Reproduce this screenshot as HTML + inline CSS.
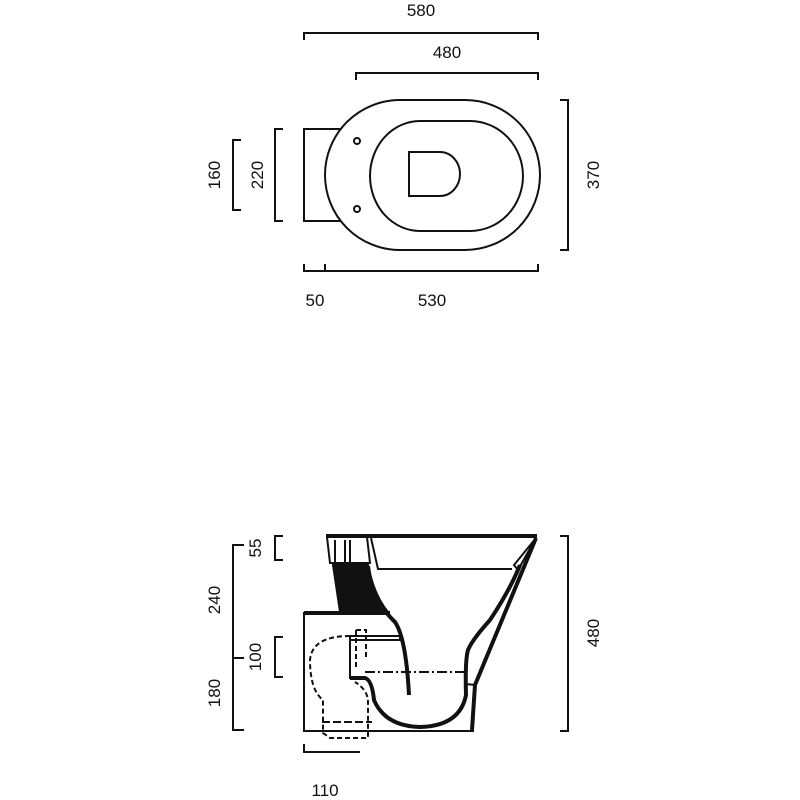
<!DOCTYPE html>
<html><head><style>body{margin:0;background:#fff}svg{display:block}text{font-family:"Liberation Sans",sans-serif;font-size:17px;fill:#111}</style></head><body>
<svg width="800" height="800" viewBox="0 0 800 800" fill="none" stroke="#111" stroke-width="2">
<path d="M304 40V33H538V40"/><text x="421" y="16" text-anchor="middle" stroke="none">580</text>
<path d="M356 80V73H538V80"/><text x="447" y="58" text-anchor="middle" stroke="none">480</text>
<path d="M560 100H568V250H560"/><text transform="translate(599 175) rotate(-90)" text-anchor="middle" stroke="none">370</text>
<path d="M241 140H233V210H241"/><text transform="translate(220 175) rotate(-90)" text-anchor="middle" stroke="none">160</text>
<path d="M283 129H275V221H283"/><text transform="translate(263 175) rotate(-90)" text-anchor="middle" stroke="none">220</text>
<path d="M304 264V271H538V264M325 264V271"/>
<text x="315" y="306" text-anchor="middle" stroke="none">50</text><text x="432" y="306" text-anchor="middle" stroke="none">530</text>
<path d="M340 129H304V221H340"/>
<path d="M400 100H465A75 75 0 0 1 465 250H400A75 75 0 0 1 400 100Z" fill="#fff"/>
<path d="M420 121H470A53 55 0 0 1 470 231H420A50 55 0 0 1 420 121Z"/>
<path d="M409 152H440A20 22 0 0 1 440 196H409Z"/>
<circle cx="357" cy="141" r="3"/><circle cx="357" cy="209" r="3"/>
<path d="M244 545H233V730H244M233 658H244"/>
<path d="M283 536H275V560H283M283 637H275V677H283"/>
<text transform="translate(261 548) rotate(-90)" text-anchor="middle" stroke="none">55</text>
<text transform="translate(220 600) rotate(-90)" text-anchor="middle" stroke="none">240</text>
<text transform="translate(261 657) rotate(-90)" text-anchor="middle" stroke="none">100</text>
<text transform="translate(220 693) rotate(-90)" text-anchor="middle" stroke="none">180</text>
<path d="M560 536H568V731H560"/><text transform="translate(599 633) rotate(-90)" text-anchor="middle" stroke="none">480</text>
<path d="M304 744V752H360"/><text x="325" y="796" text-anchor="middle" stroke="none">110</text>
<path d="M326 536H537" stroke-width="4"/>
<path d="M327 537L330 563H370L367 537" />
<path d="M335 540V563M345 540V563M350 540V563"/>
<path d="M371 538L378 569H512"/>
<path d="M536 538L514 565L518 570L532 545"/>
<path d="M333 565H368Q374 595 388 612H340Z" fill="#111"/>
<path d="M304 612V731H474" />
<path d="M304 613H390" stroke-width="4"/>
<path d="M368 566Q372 600 395 622Q406 638 409 695" stroke-width="4"/>
<path d="M350 636H400V640H350ZM350 636V678H365" />
<path d="M350 678H365Q372 680 374 700Q385 726 420 727Q460 726 466 695Q465 660 468 650Q472 640 490 620Q510 590 520 565" stroke-width="4"/>
<path d="M536 538L475 685L472 730" stroke-width="4"/>
<path d="M466 684L475 685"/>
<path d="M365 672H466" stroke-dasharray="10 3 2 3"/>
<path d="M356 630V670M356 630H366V660" stroke-dasharray="5 3"/>
<path d="M350 636Q312 636 310 660Q310 690 323 700V733L330 738H368V702Q368 690 355 682" stroke-dasharray="5 3"/>
<path d="M322 722H372" stroke-dasharray="8 3"/>
</svg>
</body></html>
